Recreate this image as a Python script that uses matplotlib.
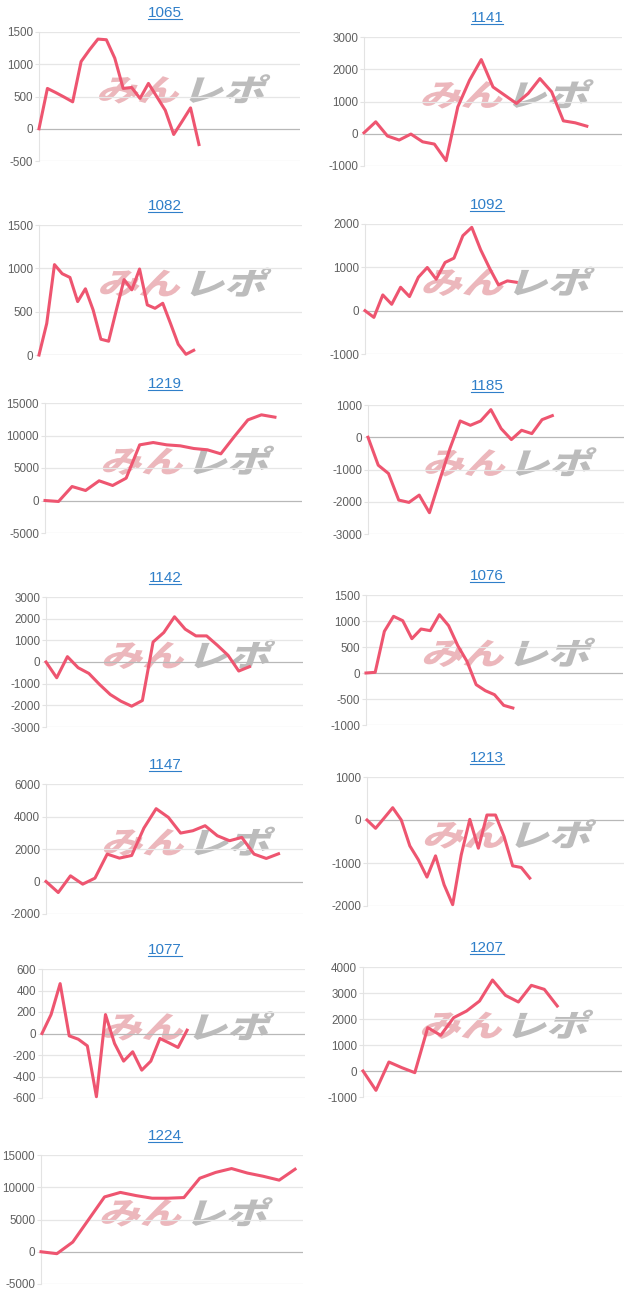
import matplotlib
matplotlib.use("Agg")
import matplotlib.pyplot as plt
from matplotlib.textpath import TextPath
from matplotlib.patches import PathPatch
from matplotlib.font_manager import FontProperties
from matplotlib.transforms import Affine2D
from matplotlib.lines import Line2D

plt.rcParams['font.family'] = ['Liberation Sans', 'DejaVu Sans']

# chart data (one list per machine)
titles = ["1065", "1141", "1082", "1092", "1219", "1185", "1142",
          "1076", "1147", "1213", "1077", "1207", "1224"]

v1065 = [0, 625, 560, 490, 417, 1042, 1224, 1390, 1380, 1094, 625, 640,
         470, 703, 495, 286, -89, 115, 323, -245]
v1141 = [30, 370, -70, -195, -10, -250, -320, -835, 835, 1660, 2300, 1450,
         1195, 940, 1250, 1710, 1300, 400, 340, 235]
v1082 = [0, 364, 1043, 938, 895, 616, 764, 519, 182, 159, 520, 870, 752,
         992, 578, 539, 597, 364, 124, 8, 54]
v1092 = [0, -155, 363, 147, 540, 325, 772, 996, 726, 1112, 1212, 1730,
         1923, 1405, 981, 595, 687, 656]
v1219 = [0, -150, 2150, 1540, 3030, 2310, 3440, 8560, 8920, 8560, 8410,
         8000, 7800, 7180, 9850, 12400, 13180, 12820]
v1185 = [0, -866, -1124, -1948, -2020, -1794, -2340, -1330, -350, 505,
         371, 505, 856, 268, -72, 216, 113, 546, 670]
v1142 = [0, -727, 247, -263, -526, -1036, -1500, -1810, -2040, -1777, 923,
         1360, 2087, 1515, 1205, 1205, 773, 309, -417, -216]
v1076 = [0, 13, 801, 1090, 1006, 660, 846, 814, 1122, 910, 526, 224, -224,
         -340, -417, -622, -673]
v1147 = [0, -678, 350, -164, 206, 1686, 1439, 1603, 3289, 4481, 3946, 2980,
         3124, 3433, 2816, 2508, 2713, 1686, 1418, 1706]
v1213 = [0, -193, 45, 286, 0, -602, -927, -1328, -834, -1506, -1969, -811,
         15, -656, 116, 116, -386, -1066, -1104, -1351]
v1077 = [0, 176, 464, -22, -53, -115, -588, 176, -93, -257, -170, -341,
         -257, -46, -87, -130, 31]
v1207 = [0, -744, 346, 128, -64, 1667, 1372, 2051, 2308, 2692, 3500, 2910,
         2654, 3295, 3141, 2500]
v1224 = [0, -300, 1500, 5000, 8500, 9200, 8700, 8300, 8300, 8400, 11400,
         12300, 12900, 12200, 11700, 11100, 12800]

series = [v1065, v1141, v1082, v1092, v1219, v1185, v1142,
          v1076, v1147, v1213, v1077, v1207, v1224]

# x extent of each chart (label slots)
x_max = [31, 22, 34, 29, 19, 25, 24, 28, 21, 30, 29, 20, 16.5]

yticks = [
    [-500, 0, 500, 1000, 1500],
    [-1000, 0, 1000, 2000, 3000],
    [0, 500, 1000, 1500],
    [-1000, 0, 1000, 2000],
    [-5000, 0, 5000, 10000, 15000],
    [-3000, -2000, -1000, 0, 1000],
    [-3000, -2000, -1000, 0, 1000, 2000, 3000],
    [-1000, -500, 0, 500, 1000, 1500],
    [-2000, 0, 2000, 4000, 6000],
    [-2000, -1000, 0, 1000],
    [-600, -400, -200, 0, 200, 400, 600],
    [-1000, 0, 1000, 2000, 3000, 4000],
    [-5000, 0, 5000, 10000, 15000],
]

# plot boxes in pixels: left, top, right, bottom
boxes = [
    (39, 32, 300, 161), (364, 37, 622, 166),
    (39, 225, 302, 355), (365, 224, 623, 354),
    (45, 403, 302, 533), (368, 405, 624, 534),
    (46, 597, 303, 727), (366, 595, 623, 725),
    (46, 784, 303, 914), (367, 777, 624, 906),
    (42, 969, 305, 1098), (363, 967, 622, 1097),
    (41, 1155, 303, 1284),
]

W, H = 640, 1303
fig = plt.figure(figsize=(W / 100, H / 100), dpi=100)

line_color = '#ee5570'
link_color = '#2f7fc9'
wm_font = FontProperties(family='Noto Sans CJK JP', weight='heavy')

titles_txt = []
for i in range(len(titles)):
    l, t, r, b = boxes[i]
    ax = fig.add_axes([l / W, 1 - b / H, (r - l) / W, (b - t) / H])
    yt = yticks[i]
    ax.set_ylim(yt[0], yt[-1])
    ax.set_xlim(0, x_max[i])
    ax.set_yticks(yt)
    ax.set_yticklabels([str(v) for v in yt])
    ax.set_xticks([])
    ax.tick_params(axis='y', length=3, color='#e3e3e3', labelsize=8.4,
                   labelcolor='#606060', pad=1.2)
    for s in ['top', 'right', 'bottom']:
        ax.spines[s].set_visible(False)
    ax.spines['left'].set_color('#e3e3e3')
    for v in yt:
        c = '#b8b8b8' if v == 0 else '#e6e6e6'
        ax.axhline(v, color=c, lw=0.9, zorder=1)

    # watermark
    cx = (l + 0.54 * (r - l)) / 100
    cy = (H - (t + 0.43 * (b - t))) / 100
    p1 = TextPath((0, 0), "みん", size=27, prop=wm_font)
    p2 = TextPath((0, 0), "レポ", size=27, prop=wm_font)
    w1 = p1.get_extents().width
    w2 = p2.get_extents().width
    tot = w1 + w2 + 4
    hh = p1.get_extents().height
    for p, x0, col in [(p1, 0, '#eab0b5'), (p2, w1 + 4, '#b5b5b5')]:
        tr = (Affine2D().translate(x0 - tot / 2, -hh / 2)
              .skew_deg(14, 0).scale(1.1 / 72, 0.82 / 72)
              .translate(cx, cy) + fig.dpi_scale_trans)
        fig.patches.append(PathPatch(p, transform=tr, facecolor=col,
                                     edgecolor='none', alpha=0.9, zorder=2))

    ax.set_zorder(3)
    ax.patch.set_alpha(0)
    ax.plot(range(len(series[i])), series[i], color=line_color, lw=2.2,
            solid_joinstyle='round', clip_on=False, zorder=4)

    tx = 165 if l < 320 else 487
    tt = fig.text(tx / W, 1 - (t - 19) / H, titles[i], color=link_color,
                  fontsize=11, ha='center', va='center')
    titles_txt.append(tt)

# underline the titles (they are links)
fig.canvas.draw()
renderer = fig.canvas.get_renderer()
for tt in titles_txt:
    bb = tt.get_window_extent(renderer)
    y = (bb.y0 + 1) / H
    fig.lines.append(Line2D([bb.x0 / W, bb.x1 / W], [y, y], color=link_color,
                            lw=0.8, transform=fig.transFigure))

fig.savefig("out.png", dpi=100)
